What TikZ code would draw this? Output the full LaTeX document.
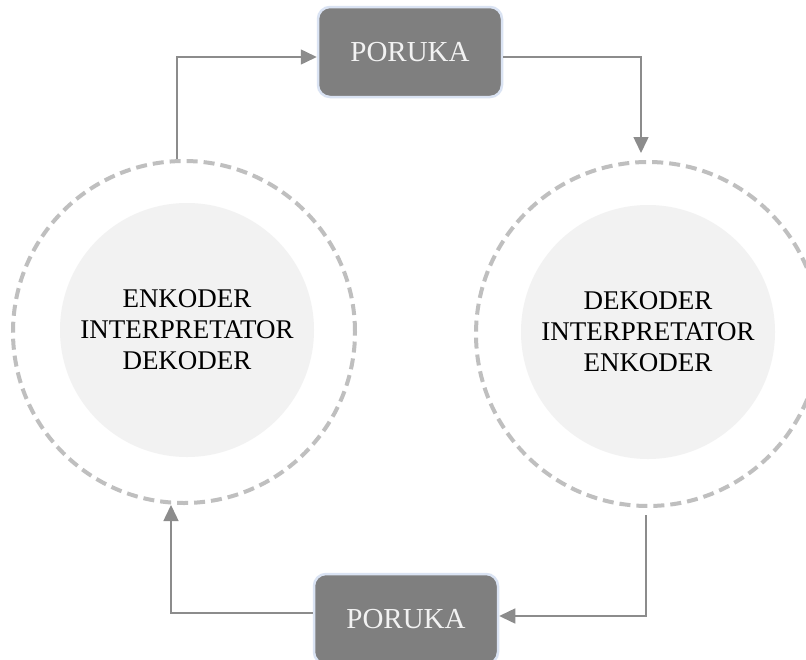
\documentclass[tikz,border=0pt]{standalone}
\usepackage{fontspec}
\setmainfont{Liberation Serif}
\usetikzlibrary{arrows.meta}
\definecolor{boxfill}{HTML}{7F7F7F}
\definecolor{boxedge}{HTML}{DAE3F3}
\definecolor{ringgray}{HTML}{BFBFBF}
\definecolor{corefill}{HTML}{F2F2F2}
\definecolor{linkgray}{HTML}{8C8C8C}
\begin{document}
\begin{tikzpicture}[x=1pt,y=-1pt,
  msgbox/.style={rectangle, rounded corners=12pt, fill=boxfill, draw=boxedge,
    line width=2.5pt, minimum width=184pt, minimum height=90pt,
    text=corefill, font=\fontsize{29}{34}\selectfont, inner sep=0pt},
  ring/.style={circle, draw=ringgray, line width=4pt,
    dash pattern=on 11pt off 6pt, minimum size=#1, inner sep=0pt},
  core/.style={circle, fill=corefill, minimum size=254pt, inner sep=0pt,
    align=center, font=\fontsize{27}{31}\selectfont},
  link/.style={draw=linkgray, line width=1.5pt,
    -{Triangle[length=16pt,width=15pt]}}]
  \useasboundingbox (0,0) rectangle (806,659);
  \fill[white] (0,0) rectangle (806,659);

  % the two participants
  \node[ring=342pt] (lo) at (184,332) {};
  \node[core] (li) at (187,330) {ENKODER\\INTERPRETATOR\\DEKODER};
  \node[ring=344pt] (ro) at (648,334) {};
  \node[core] (ri) at (648,332) {DEKODER\\INTERPRETATOR\\ENKODER};

  % the messages
  \node[msgbox] (top) at (410,52) {PORUKA};
  \node[msgbox] (bot) at (406,619) {PORUKA};

  % the cycle
  \draw[link] ([xshift=-7pt]lo.north) |- ([yshift=-5pt]top.west);
  \draw[link, shorten >=7pt] ([yshift=-5pt]top.east) -| ([xshift=-7pt]ro.north);
  \draw[link, shorten <=7pt] ([xshift=-2pt]ro.south) |- ([yshift=3pt]bot.east);
  \draw[link] ([yshift=6pt]bot.west) -| ([xshift=-13pt]lo.south);
\end{tikzpicture}
\end{document}
